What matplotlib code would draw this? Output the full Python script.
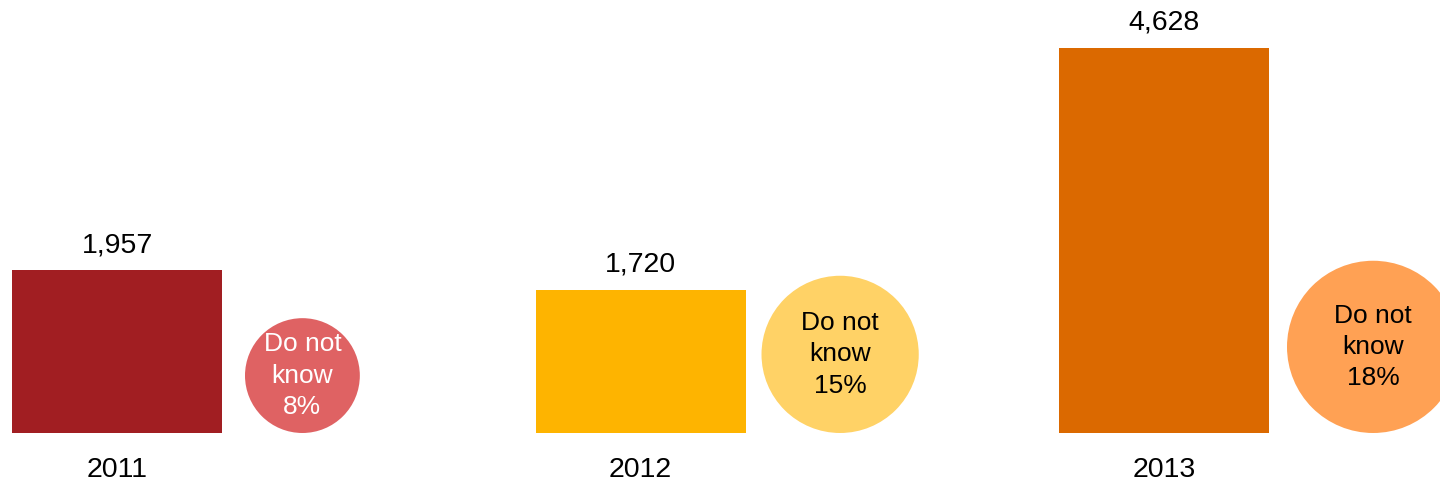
import matplotlib.pyplot as plt
import numpy as np

plt.rcParams['font.family'] = ['Liberation Sans', 'DejaVu Sans']

years = ['2011', '2012', '2013']
totals = [1957, 1720, 4628]
dont_know_pct = [8, 15, 18]
bar_colors = ['#A11E22', '#FEB400', '#DB6900']
bubble_colors = ['#DF6263', '#FFD266', '#FFA154']
bubble_text_colors = ['white', 'black', 'black']

# pixel geometry (dpi 100, 1440x480)
W, H = 1440, 480
px_per_val = 385 / 4628.0      # vertical scale
px_per_idx = 523.5             # spacing between groups
first_x = 117                  # centre of first bar in px
base_px = 47                   # baseline, from bottom
bar_w_px = 210
gaps_px = np.array([23, 16, 18])   # bar edge to bubble edge
r_k = 20.3                     # bubble radius px per sqrt(pct)

fig = plt.figure(figsize=(14.4, 4.8), dpi=100)
ax = fig.add_axes([0, 0, 1, 1])
ax.set_xlim(-first_x / px_per_idx, (W - first_x) / px_per_idx)
ax.set_ylim(-base_px / px_per_val, (H - base_px) / px_per_val)
ax.axis('off')

x = np.arange(len(years))
ax.bar(x, totals, width=bar_w_px / px_per_idx, color=bar_colors)

for i, (v, yr) in enumerate(zip(totals, years)):
    ax.annotate(f"{v:,}", (x[i], v), xytext=(0, 13), textcoords='offset points',
                ha='center', va='baseline', fontsize=20.5)
    ax.annotate(yr, (x[i], 0), xytext=(0, -31.5), textcoords='offset points',
                ha='center', va='baseline', fontsize=20.5)

# "Do not know" bubbles, area proportional to the share
r_px = r_k * np.sqrt(dont_know_pct)
bx = x + (bar_w_px / 2 + gaps_px + r_px) / px_per_idx
by = r_px / px_per_val
sizes = (2 * r_px * 0.72) ** 2
ax.scatter(bx, by, s=sizes, c=bubble_colors, linewidths=0, zorder=3)
for i, p in enumerate(dont_know_pct):
    ax.text(bx[i], by[i], f"Do not\nknow\n{p}%", ha='center', va='center',
            fontsize=19, linespacing=1.38, color=bubble_text_colors[i], zorder=4)

fig.savefig('out.png', dpi=100)
